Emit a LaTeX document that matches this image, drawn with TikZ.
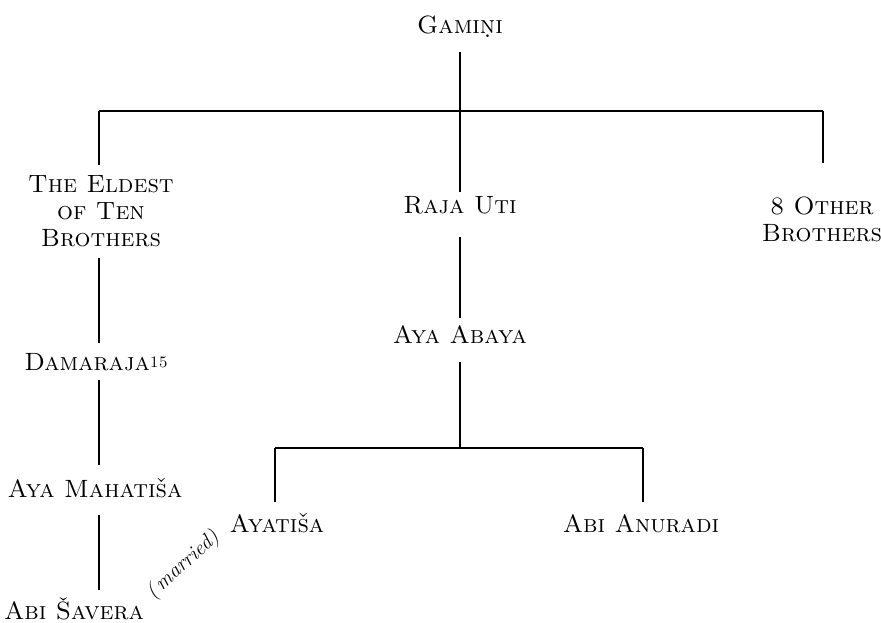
\documentclass[tikz,border=0pt]{standalone}
\usetikzlibrary{calc}
% letter with a dot set beneath it
\newcommand\dotunder[1]{\leavevmode\vtop{\offinterlineskip\halign{\hfil##\hfil\cr#1\cr\noalign{\kern1pt}.\cr}}}
\begin{document}
\begin{tikzpicture}[x=1pt,y=-1pt,
  person/.style={inner sep=0pt, font=\fontsize{25}{27}\selectfont\scshape},
  link/.style={line width=1.1pt, black}]
\useasboundingbox (0,0) rectangle (881,623);

% people
\node[person,anchor=base] (gam) at (460,34) {Gami\dotunder{n}i};
\node[person,anchor=north,align=center] (eld) at (101,175) {The Eldest\\of Ten\\Brothers};
\node[person,anchor=base] (rut) at (460,213) {Raja Uti};
\node[person,anchor=north,align=center] (oth) at (822,197) {8 Other\\Brothers};
\node[person,anchor=base] (dam) at (96,370) {Damaraja\raisebox{3pt}{\fontsize{16}{16}\selectfont 15}};
\node[person,anchor=base] (aba) at (460,343) {Aya Abaya};
\node[person,anchor=base] (mah) at (95,497) {Aya Mahati\v{s}a};
\node[person,anchor=base] (sav) at (74,619) {Abi \v{S}avera};
\node[person,anchor=base] (aya) at (277,532) {Ayati\v{s}a};
\node[person,anchor=base] (anu) at (641,532) {Abi Anuradi};
\node[rotate=42, inner sep=0pt, font=\fontsize{21}{21}\selectfont\itshape] (mar) at (183,565) {(\,married)};

% junctions of the two sibling bars
\coordinate (jt) at (460,111);
\coordinate (jl) at (99,111);
\coordinate (jr) at (823,111);
\coordinate (kt) at (460,448);
\coordinate (kl) at (275,448);
\coordinate (kr) at (643,448);

% first generation
\draw[link] ($(gam.base)+(0pt,-18pt)$) -- (jt);
\draw[link] (jl) -- (jr);
\draw[link] (jl) -- ($(eld.north -| jl)+(0pt,10pt)$);
\draw[link] (jt) -- ($(rut.base)+(0pt,21pt)$);
\draw[link] (jr) -- ($(oth.north -| jr)+(0pt,34pt)$);

% line of the eldest brother
\draw[link] ($(eld.south -| jl)+(0pt,-11pt)$) -- ($(dam.base -| jl)+(0pt,27pt)$);
\draw[link] ($(dam.base -| jl)+(0pt,-10pt)$) -- ($(mah.base -| jl)+(0pt,32pt)$);
\draw[link] ($(mah.base -| jl)+(0pt,-18pt)$) -- ($(sav.base -| jl)+(0pt,29pt)$);

% line of Raja Uti
\draw[link] ($(rut.base)+(0pt,-24pt)$) -- ($(aba.base)+(0pt,25pt)$);
\draw[link] ($(aba.base)+(0pt,-19pt)$) -- (kt);
\draw[link] (kl) -- (kr);
\draw[link] (kl) -- ($(aya.base -| kl)+(0pt,30pt)$);
\draw[link] (kr) -- ($(anu.base -| kr)+(0pt,30pt)$);
\end{tikzpicture}
\end{document}
